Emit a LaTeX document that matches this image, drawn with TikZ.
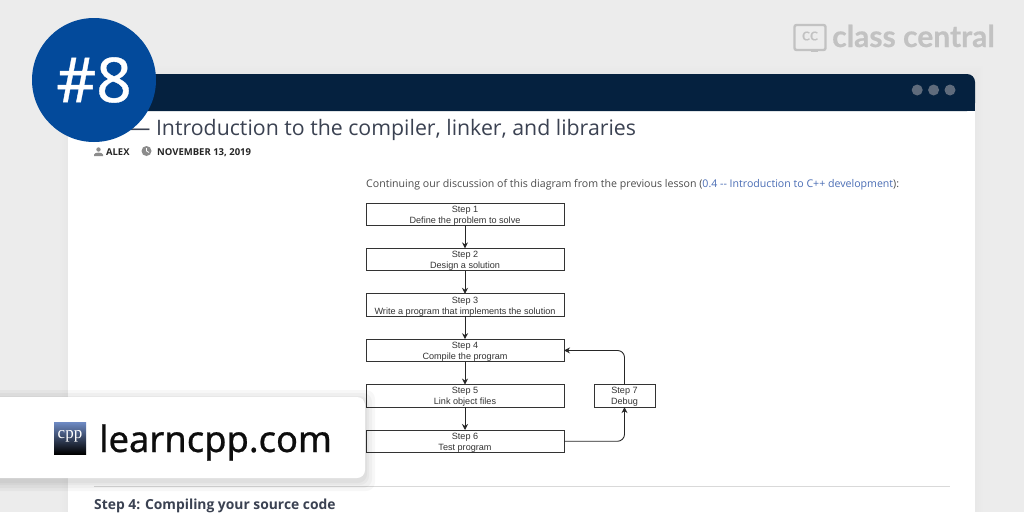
\documentclass[tikz,border=0pt]{standalone}
\usepackage{fontspec}
\setmainfont{Open Sans}
\newfontfamily\stepfont{Liberation Sans}
\newfontfamily\brandfont[FakeBold=0.5]{Lato}
\newfontfamily\sitefont[FakeBold=0.6]{Noto Sans}
\newfontfamily\iconfont{Liberation Serif}
\usepackage{xcolor}
\usetikzlibrary{arrows.meta, positioning}
\definecolor{pagegray}{HTML}{ECECEC}
\definecolor{barnavy}{HTML}{05213F}
\definecolor{badgeblue}{HTML}{034A9B}
\definecolor{inkslate}{HTML}{3B4252}
\definecolor{linkblue}{HTML}{4A6DB5}
\definecolor{brandgray}{HTML}{C2C2C2}
\definecolor{dotgray}{HTML}{5F6B7C}
\newcommand{\steplabel}[2]{\rule{0pt}{9pt}#1\\#2}
\begin{document}
\begin{tikzpicture}[
    x=1pt, y=-1pt,
    >=Stealth,
    stepbox/.style={draw=black!80, line width=0.9pt, align=center, inner sep=0pt, outer sep=0pt,
                minimum height=22.5pt, minimum width=198pt, text=black!80,
                font=\fontsize{9.1}{11}\selectfont\stepfont},
    debugbox/.style={stepbox, minimum width=61pt},
    flow/.style={->, draw=black!85, line width=0.9pt, rounded corners=7pt,
                 >={Stealth[length=6pt,width=6pt]}},
    lbl/.style={inner sep=0pt, anchor=base west},
    dot/.style={circle, fill=dotgray, minimum size=11pt, inner sep=0pt}]
    \useasboundingbox (0,0) rectangle (1024,512);
    \fill[pagegray] (0,0) rectangle (1024,512);
    % window with soft edge
    \foreach \g in {8,6,4,2}
      \fill[black, opacity=0.004] (68-\g,74-\g) rectangle (975+\g,512);
    \fill[white] (68,111) rectangle (975,512);
    \fill[barnavy, rounded corners=8pt] (68,74) -- (975,74) -- (975,111) -- (68,111) -- cycle;
    \fill[barnavy] (68,95) rectangle (975,111);
    \node[dot] (dotc) at (950,90) {};
    \node[dot, left=5pt of dotc] (dotb) {};
    \node[dot, left=5pt of dotb] (dota) {};
    % page heading
    \node[lbl, font=\fontsize{21.3}{24}\selectfont, text=inkslate] (title) at (129,135)
      {— Introduction to the compiler, linker, and libraries};
    \fill[black!45] (98.5,149.5) circle (2.2pt);
    \fill[black!45] (94,156) -- (94,154.5) .. controls (94,152) and (103,152) .. (103,154.5) -- (103,156) -- cycle;
    \node[lbl, font=\fontsize{9.4}{11}\selectfont\bfseries, text=black!85] (author) at (106,155.5) {ALEX};
    \fill[black!45] (146.5,151) circle (5pt);
    \draw[white, line width=0.7pt] (146.5,148) -- (146.5,151) -- (149,152.5);
    \node[lbl, font=\fontsize{9.5}{11}\selectfont\bfseries, text=black!85] (date) at (157,155.5) {NOVEMBER 13, 2019};
    \node[lbl, font=\fontsize{10.6}{12}\selectfont, text=black!70] (intro) at (366,187.5)
      {Continuing our discussion of this diagram from the previous lesson (\textcolor{linkblue}{0.4 -{}- Introduction to C++ development}):};
    % flow chart
    \node[stepbox, anchor=north west] (s1) at (366,203) {\steplabel{Step 1}{Define the problem to solve}};
    \node[stepbox, below=22.9pt of s1] (s2) {\steplabel{Step 2}{Design a solution}};
    \node[stepbox, below=22.9pt of s2] (s3) {\steplabel{Step 3}{Write a program that implements the solution}};
    \node[stepbox, below=22.9pt of s3] (s4) {\steplabel{Step 4}{Compile the program}};
    \node[stepbox, below=22.9pt of s4] (s5) {\steplabel{Step 5}{Link object files}};
    \node[stepbox, below=22.9pt of s5] (s6) {\steplabel{Step 6}{Test program}};
    \node[debugbox, right=30pt of s5] (s7) {\steplabel{Step 7}{Debug}};
    \draw[flow] (s1) -- (s2);
    \draw[flow] (s2) -- (s3);
    \draw[flow] (s3) -- (s4);
    \draw[flow] (s4) -- (s5);
    \draw[flow] (s5) -- (s6);
    \draw[flow] (s6.east) -| (s7.south);
    \draw[flow] (s7.north) |- (s4.east);
    % lower part of the page
    \coordinate (ruleleft) at (94,486);
    \coordinate (ruleright) at (950,486);
    \draw[black!15, line width=0.7pt] (ruleleft) -- (ruleright);
    \node[lbl, font=\fontsize{13.85}{16}\selectfont\bfseries, text=inkslate] (nexthead) at (94,509) {Step 4: Compiling your source code};
    % brand mark
    \draw[brandgray, line width=2.4pt, rounded corners=2pt] (794.5,25) rectangle (825.5,50);
    \fill[brandgray] (811,49) rectangle (818,52);
    \node[font=\fontsize{17}{17}\selectfont\brandfont, text=brandgray, inner sep=0pt] (cc) at (810,36) {cc};
    \node[lbl, font=\fontsize{30}{30}\selectfont\brandfont\bfseries, text=brandgray] (brand) at (832,47) {class central};
    % badge
    \node[circle, fill=badgeblue, minimum size=124pt, inner sep=0pt, text=white,
          font=\fontsize{62}{62}\selectfont\sitefont] (badge) at (94,80) {\#8\hspace{3pt}};
    % site card
    \foreach \g in {10,7,4,2}
      \fill[black, opacity=0.03, rounded corners=9pt] (-10,397-\g+3) rectangle (365+\g,478+\g+3);
    \fill[white, rounded corners=8pt] (-10,397) rectangle (365,478);
    \shade[top color=linkblue!80!white, bottom color=black] (54,422) rectangle (86,454);
    \node[font=\fontsize{17}{17}\selectfont\iconfont, text=white, inner sep=0pt] (cpp) at (70,436) {cpp};
    \node[lbl, font=\fontsize{36.3}{38}\selectfont\sitefont, text=black!95] (site) at (99,452) {learncpp.com};
\end{tikzpicture}
\end{document}
